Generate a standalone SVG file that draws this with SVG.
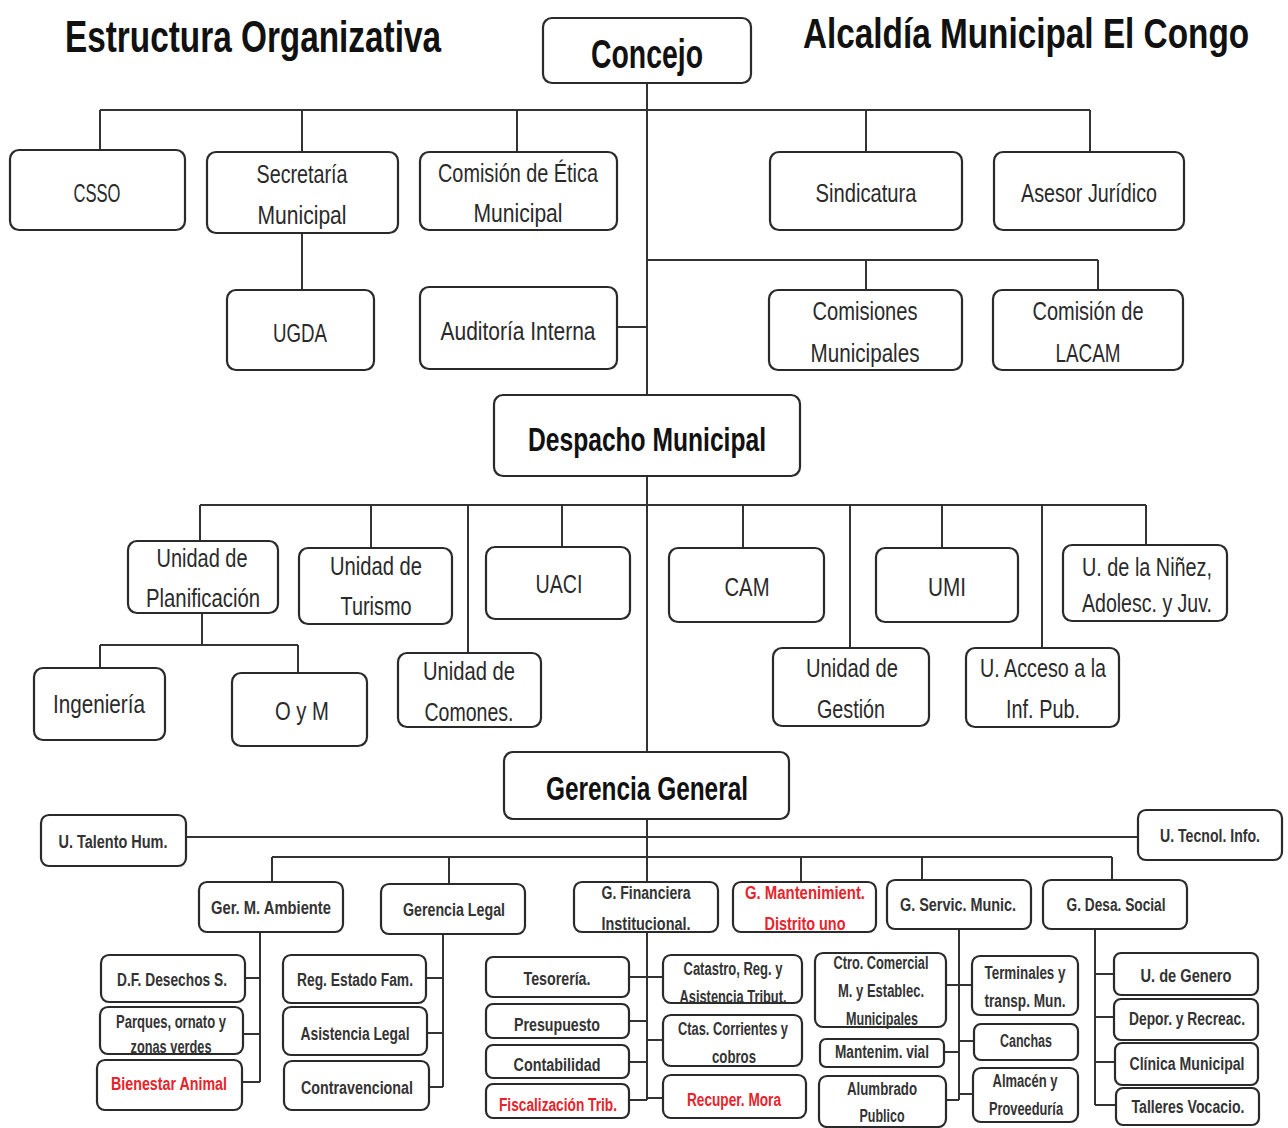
<svg xmlns="http://www.w3.org/2000/svg" width="1288" height="1128" viewBox="0 0 1288 1128">
<style>
.box{fill:#fff;stroke:#2a2a2a;stroke-width:2.2}
.t{font-family:"Liberation Sans",Arial,sans-serif;text-anchor:middle;fill:#2a2a2a}
.l{font-size:26px}
.s{font-size:18px;font-weight:bold;fill:#333}
.b{font-weight:bold;fill:#111}
.red{fill:#e8232b}
.c{stroke:#333;stroke-width:2;fill:none}
</style>
<rect width="1288" height="1128" fill="#fff"/>
<text class="t b" x="253" y="52" font-size="44" textLength="376" lengthAdjust="spacingAndGlyphs">Estructura Organizativa</text>
<text class="t b" x="0" y="0" font-size="43" transform="translate(1026,48) scale(0.776,1)" textLength="575" lengthAdjust="spacingAndGlyphs">Alcaldía Municipal El Congo</text>

<g id="connectors" class="c">
<path d="M647,83V395M647,476V752M647,819V882"/>
<path d="M100,110H1090M100,110V150M302,110V152M517,110V152M866,110V152M1090,110V152"/>
<path d="M302,233V290M617,327H647"/>
<path d="M647,260H1098M866,260V290M1098,260V290"/>
<path d="M200,505H1146M200,505V541M371,505V548M468,505V653M562,505V547M743,505V548M850,505V648M942,505V548M1042,505V648M1146,505V545"/>
<path d="M202,613V645M100,645H298M100,645V668M298,645V673"/>
<path d="M186,837H1138"/>
<path d="M272,857H1112M272,857V882M449,857V884M801,857V882M922,857V880M1112,857V880"/>
<path d="M260,932V1082M245,978H260M243,1034H260M242,1082H260"/>
<path d="M443,934V1087M426,978H443M427,1033H443M429,1087H443"/>
<path d="M647,932V1100M629,977H647M629,1021H647M629,1062H647M629,1100H647M647,977H663M647,1040H663M647,1098H663"/>
<path d="M959,929V1100M946,985H972M944,1052H959M946,1100H959M959,1041H974M959,1094H973"/>
<path d="M1095,929V1105M1095,974H1114M1095,1017H1114M1095,1062H1114M1095,1105H1116"/>
</g>

<g id="concejo"><rect class="box" x="543" y="18" width="208" height="65" rx="9"/><text class="t b" x="647" y="68" font-size="40" textLength="112" lengthAdjust="spacingAndGlyphs">Concejo</text></g>

<g id="csso"><rect class="box" x="10" y="150" width="175" height="80" rx="9"/><text class="t l" x="97" y="202" textLength="47" lengthAdjust="spacingAndGlyphs">CSSO</text></g>
<g id="secretaria"><rect class="box" x="207" y="152" width="191" height="81" rx="9"/><text class="t l" x="302" y="183" textLength="91" lengthAdjust="spacingAndGlyphs">Secretaría</text><text class="t l" x="302" y="224" textLength="89" lengthAdjust="spacingAndGlyphs">Municipal</text></g>
<g id="etica"><rect class="box" x="420" y="152" width="197" height="78" rx="9"/><text class="t l" x="518" y="182" textLength="160" lengthAdjust="spacingAndGlyphs">Comisión de Ética</text><text class="t l" x="518" y="222" textLength="89" lengthAdjust="spacingAndGlyphs">Municipal</text></g>
<g id="sindicatura"><rect class="box" x="770" y="152" width="192" height="78" rx="9"/><text class="t l" x="866" y="202" textLength="101" lengthAdjust="spacingAndGlyphs">Sindicatura</text></g>
<g id="asesor"><rect class="box" x="994" y="152" width="190" height="78" rx="9"/><text class="t l" x="1089" y="202" textLength="136" lengthAdjust="spacingAndGlyphs">Asesor Jurídico</text></g>

<g id="ugda"><rect class="box" x="227" y="290" width="147" height="80" rx="9"/><text class="t l" x="300" y="342" textLength="54" lengthAdjust="spacingAndGlyphs">UGDA</text></g>
<g id="auditoria"><rect class="box" x="420" y="287" width="197" height="82" rx="9"/><text class="t l" x="518" y="340" textLength="155" lengthAdjust="spacingAndGlyphs">Auditoría Interna</text></g>
<g id="comisiones"><rect class="box" x="769" y="290" width="193" height="80" rx="9"/><text class="t l" x="865" y="320" textLength="105" lengthAdjust="spacingAndGlyphs">Comisiones</text><text class="t l" x="865" y="362" textLength="109" lengthAdjust="spacingAndGlyphs">Municipales</text></g>
<g id="lacam"><rect class="box" x="993" y="290" width="190" height="80" rx="9"/><text class="t l" x="1088" y="320" textLength="111" lengthAdjust="spacingAndGlyphs">Comisión de</text><text class="t l" x="1088" y="362" textLength="65" lengthAdjust="spacingAndGlyphs">LACAM</text></g>

<g id="despacho"><rect class="box" x="494" y="395" width="306" height="81" rx="9"/><text class="t b" x="647" y="451" font-size="34" textLength="238" lengthAdjust="spacingAndGlyphs">Despacho Municipal</text></g>

<g id="planificacion"><rect class="box" x="128" y="541" width="150" height="72" rx="9"/><text class="t l" x="202" y="567" textLength="91" lengthAdjust="spacingAndGlyphs">Unidad de</text><text class="t l" x="203" y="607" textLength="114" lengthAdjust="spacingAndGlyphs">Planificación</text></g>
<g id="turismo"><rect class="box" x="299" y="548" width="153" height="76" rx="9"/><text class="t l" x="376" y="575" textLength="92" lengthAdjust="spacingAndGlyphs">Unidad de</text><text class="t l" x="376" y="615" textLength="71" lengthAdjust="spacingAndGlyphs">Turismo</text></g>
<g id="uaci"><rect class="box" x="486" y="547" width="144" height="72" rx="9"/><text class="t l" x="559" y="593" textLength="47" lengthAdjust="spacingAndGlyphs">UACI</text></g>
<g id="cam"><rect class="box" x="669" y="548" width="155" height="74" rx="9"/><text class="t l" x="747" y="596" textLength="45" lengthAdjust="spacingAndGlyphs">CAM</text></g>
<g id="umi"><rect class="box" x="876" y="548" width="142" height="74" rx="9"/><text class="t l" x="947" y="596" textLength="38" lengthAdjust="spacingAndGlyphs">UMI</text></g>
<g id="ninez"><rect class="box" x="1063" y="545" width="164" height="76" rx="9"/><text class="t l" x="1147" y="576" textLength="130" lengthAdjust="spacingAndGlyphs">U. de la Niñez,</text><text class="t l" x="1147" y="612" textLength="130" lengthAdjust="spacingAndGlyphs">Adolesc. y Juv.</text></g>

<g id="ingenieria"><rect class="box" x="34" y="668" width="131" height="72" rx="9"/><text class="t l" x="99" y="713" textLength="92" lengthAdjust="spacingAndGlyphs">Ingeniería</text></g>
<g id="oym"><rect class="box" x="232" y="673" width="135" height="73" rx="9"/><text class="t l" x="302" y="720" textLength="54" lengthAdjust="spacingAndGlyphs">O y M</text></g>
<g id="comones"><rect class="box" x="398" y="653" width="143" height="74" rx="9"/><text class="t l" x="469" y="680" textLength="92" lengthAdjust="spacingAndGlyphs">Unidad de</text><text class="t l" x="469" y="721" textLength="89" lengthAdjust="spacingAndGlyphs">Comones.</text></g>
<g id="gestion"><rect class="box" x="773" y="648" width="156" height="78" rx="9"/><text class="t l" x="852" y="677" textLength="92" lengthAdjust="spacingAndGlyphs">Unidad de</text><text class="t l" x="851" y="718" textLength="68" lengthAdjust="spacingAndGlyphs">Gestión</text></g>
<g id="acceso"><rect class="box" x="966" y="648" width="153" height="79" rx="9"/><text class="t l" x="1043" y="677" textLength="126" lengthAdjust="spacingAndGlyphs">U. Acceso a la</text><text class="t l" x="1043" y="718" textLength="74" lengthAdjust="spacingAndGlyphs">Inf. Pub.</text></g>

<g id="gerencia"><rect class="box" x="504" y="752" width="285" height="67" rx="9"/><text class="t b" x="647" y="800" font-size="34" textLength="202" lengthAdjust="spacingAndGlyphs">Gerencia General</text></g>

<g id="talento"><rect class="box" x="41" y="815" width="145" height="51" rx="8"/><text class="t s" x="113" y="848" textLength="109" lengthAdjust="spacingAndGlyphs">U. Talento Hum.</text></g>
<g id="tecnol"><rect class="box" x="1138" y="810" width="144" height="50" rx="8"/><text class="t s" x="1210" y="842" textLength="100" lengthAdjust="spacingAndGlyphs">U. Tecnol. Info.</text></g>

<g id="ambiente"><rect class="box" x="199" y="882" width="144" height="50" rx="8"/><text class="t s" x="271" y="914" textLength="120" lengthAdjust="spacingAndGlyphs">Ger. M. Ambiente</text></g>
<g id="legal"><rect class="box" x="381" y="884" width="144" height="50" rx="8"/><text class="t s" x="454" y="916" textLength="102" lengthAdjust="spacingAndGlyphs">Gerencia Legal</text></g>
<g id="financiera"><rect class="box" x="574" y="882" width="144" height="50" rx="8"/><text class="t s" x="646" y="899" textLength="89" lengthAdjust="spacingAndGlyphs">G. Financiera</text><text class="t s" x="646" y="930" textLength="89" lengthAdjust="spacingAndGlyphs">Institucional.</text></g>
<g id="mantenimiento"><rect class="box" x="733" y="882" width="143" height="50" rx="8"/><text class="t s red" x="805" y="899" textLength="120" lengthAdjust="spacingAndGlyphs">G. Mantenimient.</text><text class="t s red" x="805" y="930" textLength="81" lengthAdjust="spacingAndGlyphs">Distrito uno</text></g>
<g id="servicios"><rect class="box" x="887" y="880" width="144" height="49" rx="8"/><text class="t s" x="958" y="911" textLength="116" lengthAdjust="spacingAndGlyphs">G. Servic. Munic.</text></g>
<g id="desarrollo"><rect class="box" x="1043" y="880" width="144" height="49" rx="8"/><text class="t s" x="1116" y="911" textLength="99" lengthAdjust="spacingAndGlyphs">G. Desa. Social</text></g>

<g id="desechos"><rect class="box" x="101" y="955" width="144" height="47" rx="8"/><text class="t s" x="172" y="986" textLength="110" lengthAdjust="spacingAndGlyphs">D.F. Desechos S.</text></g>
<g id="parques"><rect class="box" x="100" y="1007" width="143" height="47" rx="8"/><text class="t s" x="171" y="1028" textLength="110" lengthAdjust="spacingAndGlyphs">Parques, ornato y</text><text class="t s" x="171" y="1053" textLength="81" lengthAdjust="spacingAndGlyphs">zonas verdes</text></g>
<g id="bienestar"><rect class="box" x="97" y="1060" width="145" height="50" rx="8"/><text class="t s red" x="169" y="1090" textLength="116" lengthAdjust="spacingAndGlyphs">Bienestar Animal</text></g>

<g id="registro"><rect class="box" x="283" y="955" width="143" height="48" rx="8"/><text class="t s" x="355" y="986" textLength="116" lengthAdjust="spacingAndGlyphs">Reg. Estado Fam.</text></g>
<g id="asistencia"><rect class="box" x="283" y="1007" width="144" height="48" rx="8"/><text class="t s" x="355" y="1040" textLength="109" lengthAdjust="spacingAndGlyphs">Asistencia Legal</text></g>
<g id="contravencional"><rect class="box" x="284" y="1061" width="145" height="49" rx="8"/><text class="t s" x="357" y="1094" textLength="112" lengthAdjust="spacingAndGlyphs">Contravencional</text></g>

<g id="tesoreria"><rect class="box" x="486" y="957" width="143" height="40" rx="7"/><text class="t s" x="557" y="985" textLength="67" lengthAdjust="spacingAndGlyphs">Tesorería.</text></g>
<g id="presupuesto"><rect class="box" x="486" y="1004" width="143" height="34" rx="7"/><text class="t s" x="557" y="1031" textLength="86" lengthAdjust="spacingAndGlyphs">Presupuesto</text></g>
<g id="contabilidad"><rect class="box" x="486" y="1045" width="143" height="33" rx="7"/><text class="t s" x="557" y="1071" textLength="87" lengthAdjust="spacingAndGlyphs">Contabilidad</text></g>
<g id="fiscalizacion"><rect class="box" x="486" y="1084" width="143" height="34" rx="7"/><text class="t s red" x="558" y="1111" textLength="118" lengthAdjust="spacingAndGlyphs">Fiscalización Trib.</text></g>

<g id="catastro"><rect class="box" x="663" y="955" width="139" height="48" rx="8"/><text class="t s" x="733" y="975" textLength="99" lengthAdjust="spacingAndGlyphs">Catastro, Reg. y</text><text class="t s" x="733" y="1003" textLength="107" lengthAdjust="spacingAndGlyphs">Asistencia Tribut.</text></g>
<g id="cuentas"><rect class="box" x="663" y="1015" width="139" height="51" rx="8"/><text class="t s" x="733" y="1035" textLength="110" lengthAdjust="spacingAndGlyphs">Ctas. Corrientes y</text><text class="t s" x="734" y="1063" textLength="44" lengthAdjust="spacingAndGlyphs">cobros</text></g>
<g id="mora"><rect class="box" x="663" y="1075" width="143" height="43" rx="8"/><text class="t s red" x="734" y="1106" textLength="94" lengthAdjust="spacingAndGlyphs">Recuper. Mora</text></g>

<g id="comercial"><rect class="box" x="815" y="953" width="131" height="74" rx="8"/><text class="t s" x="881" y="969" textLength="95" lengthAdjust="spacingAndGlyphs">Ctro. Comercial</text><text class="t s" x="881" y="997" textLength="86" lengthAdjust="spacingAndGlyphs">M. y Establec.</text><text class="t s" x="882" y="1025" textLength="72" lengthAdjust="spacingAndGlyphs">Municipales</text></g>
<g id="vial"><rect class="box" x="820" y="1039" width="124" height="28" rx="6"/><text class="t s" x="882" y="1058" textLength="94" lengthAdjust="spacingAndGlyphs">Mantenim. vial</text></g>
<g id="alumbrado"><rect class="box" x="819" y="1076" width="127" height="51" rx="8"/><text class="t s" x="882" y="1095" textLength="70" lengthAdjust="spacingAndGlyphs">Alumbrado</text><text class="t s" x="882" y="1122" textLength="45" lengthAdjust="spacingAndGlyphs">Publico</text></g>

<g id="terminales"><rect class="box" x="972" y="956" width="106" height="59" rx="8"/><text class="t s" x="1025" y="979" textLength="81" lengthAdjust="spacingAndGlyphs">Terminales y</text><text class="t s" x="1025" y="1007" textLength="81" lengthAdjust="spacingAndGlyphs">transp. Mun.</text></g>
<g id="canchas"><rect class="box" x="974" y="1024" width="104" height="36" rx="7"/><text class="t s" x="1026" y="1047" textLength="52" lengthAdjust="spacingAndGlyphs">Canchas</text></g>
<g id="almacen"><rect class="box" x="973" y="1068" width="105" height="54" rx="8"/><text class="t s" x="1025" y="1087" textLength="65" lengthAdjust="spacingAndGlyphs">Almacén y</text><text class="t s" x="1026" y="1115" textLength="74" lengthAdjust="spacingAndGlyphs">Proveeduría</text></g>

<g id="genero"><rect class="box" x="1114" y="953" width="144" height="42" rx="7"/><text class="t s" x="1186" y="982" textLength="91" lengthAdjust="spacingAndGlyphs">U. de Genero</text></g>
<g id="deportes"><rect class="box" x="1114" y="999" width="144" height="41" rx="7"/><text class="t s" x="1187" y="1025" textLength="116" lengthAdjust="spacingAndGlyphs">Depor. y Recreac.</text></g>
<g id="clinica"><rect class="box" x="1115" y="1043" width="143" height="42" rx="7"/><text class="t s" x="1187" y="1070" textLength="115" lengthAdjust="spacingAndGlyphs">Clínica Municipal</text></g>
<g id="talleres"><rect class="box" x="1116" y="1088" width="143" height="37" rx="7"/><text class="t s" x="1188" y="1113" textLength="113" lengthAdjust="spacingAndGlyphs">Talleres Vocacio.</text></g>
</svg>
